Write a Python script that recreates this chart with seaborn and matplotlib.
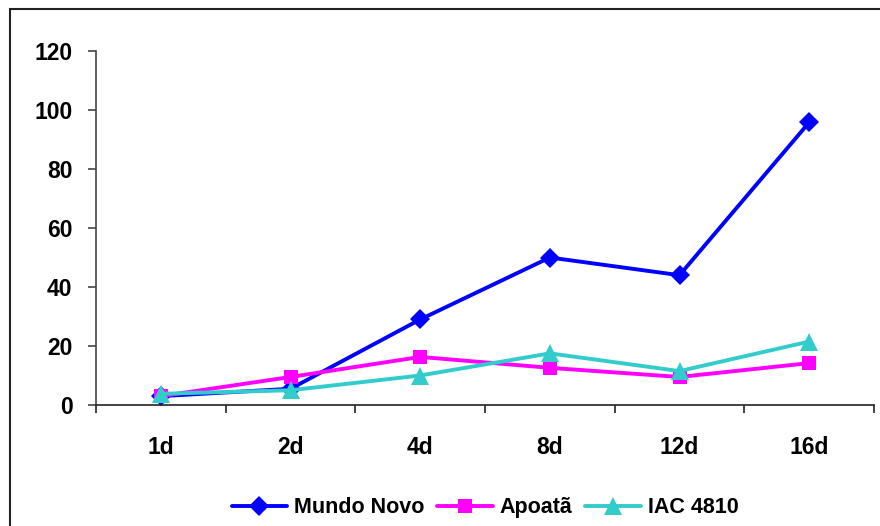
import pandas as pd
import numpy as np
import matplotlib
matplotlib.use('Agg')
import matplotlib.pyplot as plt
import seaborn as sns
from matplotlib.patches import Rectangle

# data
days = ['1d', '2d', '4d', '8d', '12d', '16d']
mundo_novo = [3.0, 5.5, 29.0, 50.0, 44.0, 95.8]
apoata = [3.0, 9.5, 16.3, 12.6, 9.5, 14.2]
iac_4810 = [3.8, 5.0, 10.0, 17.5, 11.5, 21.5]

series_names = ['Mundo Novo', 'Apoatã', 'IAC 4810']
colors = {'Mundo Novo': '#0000FF', 'Apoatã': '#FF00FF', 'IAC 4810': '#33CCCC'}
markers = {'Mundo Novo': 'D', 'Apoatã': 's', 'IAC 4810': '^'}
msizes = {'Mundo Novo': 10, 'Apoatã': 10.5, 'IAC 4810': 13}

df = pd.DataFrame({'day': days * 3,
                   'value': mundo_novo + apoata + iac_4810,
                   'serie': np.repeat(series_names, len(days))})

sns.set_style('white')
plt.rcParams['font.family'] = ['Liberation Sans', 'DejaVu Sans']
plt.rcParams['font.weight'] = 'bold'
plt.rcParams['text.color'] = 'black'

fig = plt.figure(figsize=(8.8, 5.26), dpi=100)
ax = fig.add_axes([96/880, 1-405/526, (874-96)/880, (405-51)/526])

for name in series_names:
    sub = df[df['serie'] == name]
    sns.lineplot(data=sub, x='day', y='value', ax=ax, color=colors[name],
                 marker=markers[name], markersize=msizes[name], markeredgewidth=0,
                 linewidth=2.8, label=name, sort=False)

ax.set_xlim(-0.5, len(days) - 0.5)
ax.set_ylim(0, 120)
ax.set_yticks(range(0, 121, 20))
ax.set_xlabel('')
ax.set_ylabel('')

# category boundary ticks on x, labels between them
ax.set_xticks(np.arange(-0.5, len(days), 1), minor=True)
ax.tick_params(axis='x', which='major', bottom=True, length=0, pad=22, labelsize=16.5,
               labelcolor='black')
ax.tick_params(axis='x', which='minor', bottom=True, length=6, width=1.2, direction='out',
               color='#222222')
ax.tick_params(axis='y', left=True, length=6, width=1.2, direction='out', color='#444444',
               pad=11, labelsize=16.5, labelcolor='black')
for lab in ax.get_xticklabels() + ax.get_yticklabels():
    lab.set_fontweight('bold')

sns.despine(ax=ax, top=True, right=True)
ax.spines['left'].set_color('#444444')
ax.spines['bottom'].set_color('#222222')
ax.spines['left'].set_linewidth(1.2)
ax.spines['bottom'].set_linewidth(1.2)

leg = ax.legend(loc='center', bbox_to_anchor=(0.5, -0.29), ncol=3, frameon=False,
                prop={'weight': 'bold', 'size': 15.5}, handlelength=2.6, handletextpad=0.3,
                columnspacing=0.6)
for t in leg.get_texts():
    t.set_color('black')

# outer frame of the chart area
fig.patches.append(Rectangle((10/880, -0.1), 1.2, 1 - 9/526 + 0.1, fill=False,
                             edgecolor='#222222', linewidth=1.5, transform=fig.transFigure))

fig.savefig('out.png', dpi=100)
